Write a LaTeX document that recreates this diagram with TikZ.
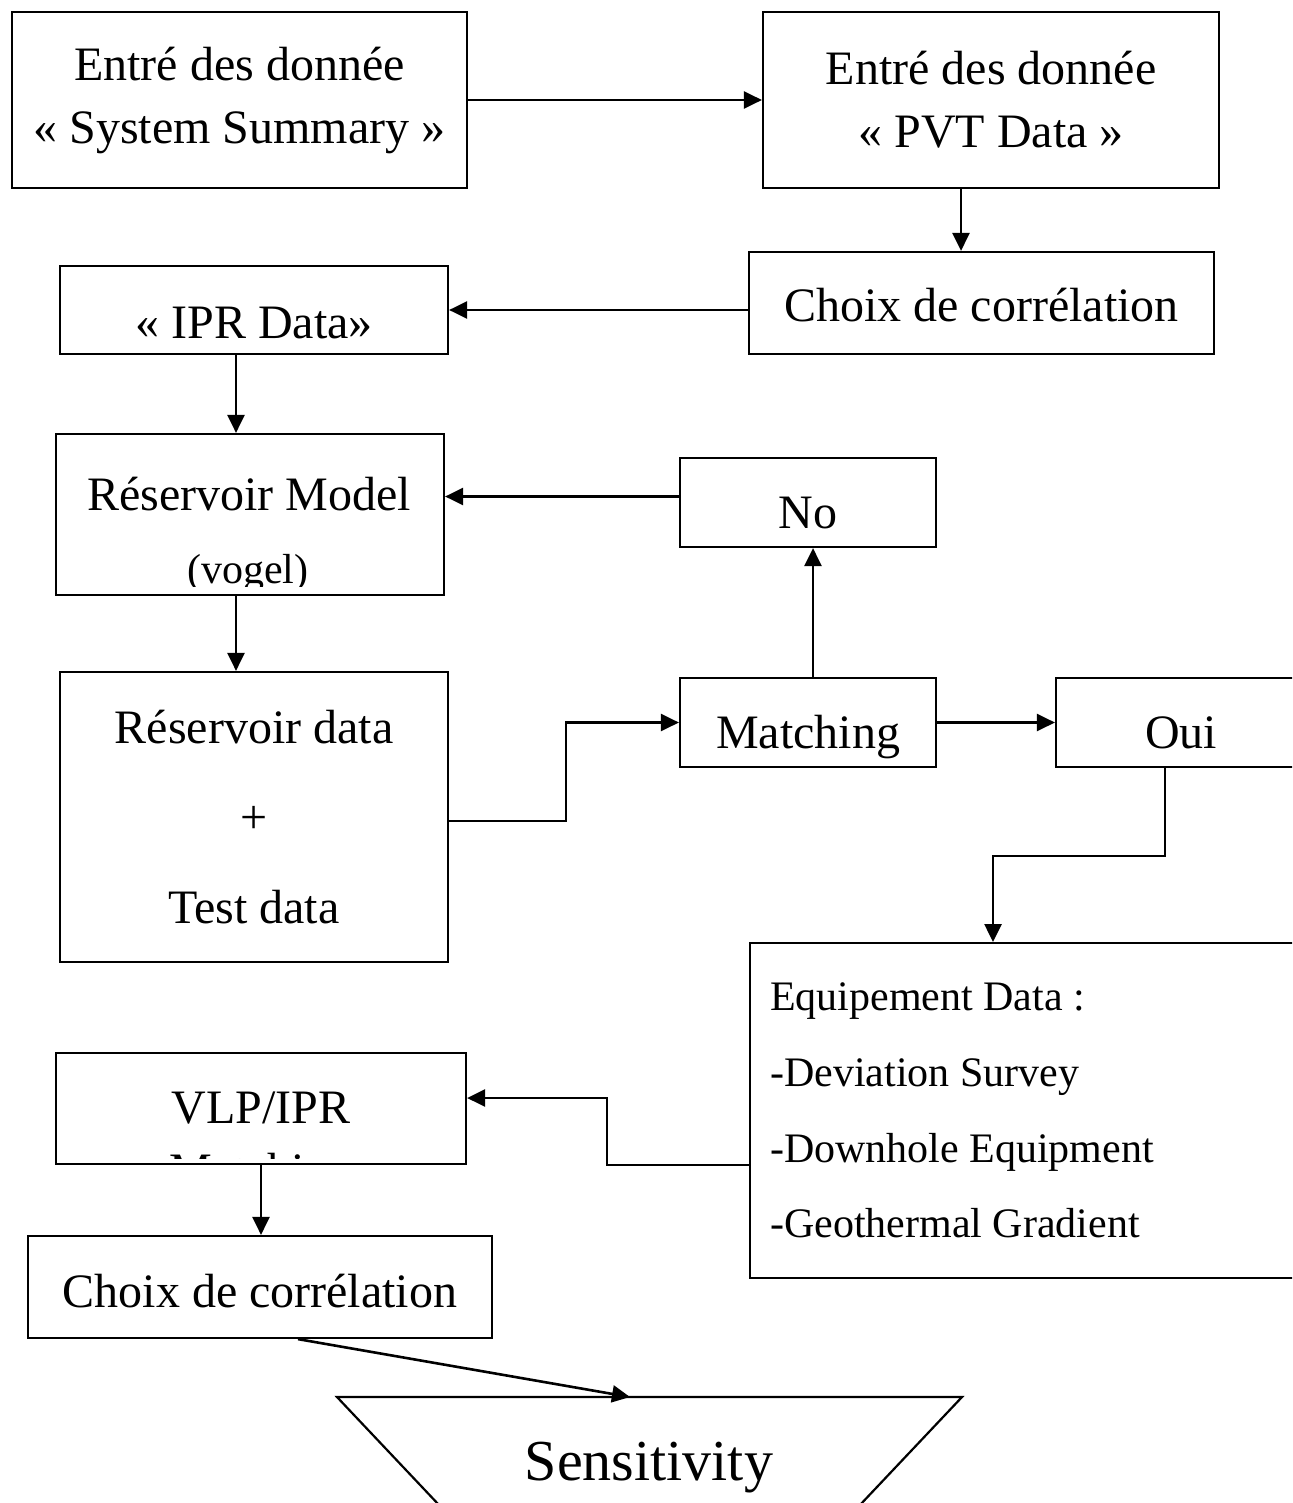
\documentclass[tikz,border=0pt]{standalone}
\usepackage{fontspec}
\setmainfont{Liberation Serif}
\usepackage{tikz}
\usetikzlibrary{positioning, calc, arrows.meta}

\begin{document}
\begin{tikzpicture}[
    x=1pt, y=-1pt,
    procbox/.style={rectangle, draw=black, line width=2.2pt, inner sep=0pt,
                    align=center, font=\fontsize{48}{63}\selectfont},
    txtdrop/.style={text height=#1, text depth=10pt},
    boxtext/.style={anchor=base, font=\fontsize{48}{63}\selectfont},
    arrow/.style={-{Triangle[length=18pt, width=17pt]}, line width=2.6pt},
  ]
    \useasboundingbox (0,0) rectangle (1292,1503);
    \clip (0,0) rectangle (1292,1503);

    \node[procbox, minimum width=455pt, minimum height=176pt] (sysum) at (239.5,100) {Entré des donnée\\« System Summary »};
    \node[procbox, minimum width=456pt, minimum height=176pt] (pvt) at (991,100) {Entré des donnée\\« PVT Data »};
    \node[procbox, txtdrop=46pt, minimum width=465pt, minimum height=102pt] (corrA) at (981.5,303) {Choix de corrélation};
    \node[procbox, txtdrop=66pt, minimum width=388pt, minimum height=88pt] (ipr) at (254,310) {« IPR Data»};
    \node[procbox, minimum width=388pt, minimum height=161pt] (resmodel) at (250,514.5) {};
    \node[procbox, txtdrop=61pt, minimum width=256pt, minimum height=89pt] (no) at (808,502.5) {No};
    \node[procbox, txtdrop=61pt, minimum width=256pt, minimum height=89pt] (match) at (808,722.5) {Matching};
    \node[procbox, txtdrop=61pt, minimum width=250pt, minimum height=89pt] (oui) at (1181,722.5) {Oui};
    \node[procbox, font=\fontsize{48}{90}\selectfont, minimum width=388pt, minimum height=290pt] (resdata) at (254,817) {Réservoir data\\+\\Test data};
    \node[procbox, anchor=north west, align=flush left, text width=560pt, inner xsep=20pt, minimum height=335pt,
          font=\fontsize{42}{75.7}\selectfont] (equip) at (749,942)
          {Equipement Data :\\-Deviation Survey\\-Downhole Equipment\\-Geothermal Gradient};
    \node[procbox, minimum width=410pt, minimum height=111pt] (vlp) at (261,1108.5) {};
    \node[procbox, txtdrop=50pt, minimum width=464pt, minimum height=102pt] (corrB) at (260,1287) {Choix de corrélation};

    \begin{scope}
      \clip (56,434) rectangle (444,586);
      \node[boxtext] (resmodeltxt) at (249,510) {Réservoir Model};
      \node[boxtext, font=\fontsize{42}{50}\selectfont] (vogeltxt) at (248,583) {(vogel)};
    \end{scope}
    \begin{scope}
      \clip (56,1053) rectangle (466,1158);
      \node[boxtext] (vlptxt) at (261,1123) {VLP/IPR};
      \node[boxtext] (vlpmatch) at (261,1186) {Matching};
    \end{scope}

    \draw[line width=2.2pt] (491,1560) -- (337,1397) -- (962,1397) -- (808,1560);
    \node[boxtext, font=\fontsize{58}{70}\selectfont] (sens) at (649,1480) {Sensitivity};

    \coordinate (pvtout) at ([xshift=-30pt]pvt.south);
    \coordinate (iprout) at ([xshift=-18pt]ipr.south);
    \coordinate (noout) at ([yshift=6pt]no.west);
    \coordinate (resout) at ([xshift=-14pt]resmodel.south);
    \coordinate (matchout) at ([xshift=5pt]match.north);
    \coordinate (ouiout) at ([xshift=-16pt]oui.south);
    \coordinate (equipin) at ([xshift=244pt]equip.north west);
    \coordinate (equipout) at ([yshift=-54.5pt]equip.west);
    \coordinate (vlpin) at ([yshift=10.5pt]vlp.east);
    \coordinate (corrout) at ([xshift=38pt]corrB.south);
    \coordinate (senstop) at (630,1397);

    \draw[arrow] (sysum) -- (pvt);
    \draw[arrow] (pvtout) -- (pvtout |- corrA.north);
    \draw[arrow] (corrA.west |- ipr) -- (ipr.east);
    \draw[arrow] (iprout) -- (iprout |- resmodel.north);
    \draw[arrow] (noout) -- (noout -| resmodel.east);
    \draw[arrow] (resout) -- (resout |- resdata.north);
    \draw[arrow] ([yshift=-4pt]resdata.east) -- ++(117,0) |- (match.west);
    \draw[arrow] (matchout) -- (matchout |- no.south);
    \draw[arrow] (match) -- (oui);
    \draw[arrow] (ouiout) -- ++(0,88) -| (equipin);
    \draw[arrow] (equipout) -- ++(-142,0) |- (vlpin);
    \draw[arrow] (vlp.south) -- (vlp.south |- corrB.north);
    \draw[arrow] (corrout) -- (senstop);
  \end{tikzpicture}
\end{document}
